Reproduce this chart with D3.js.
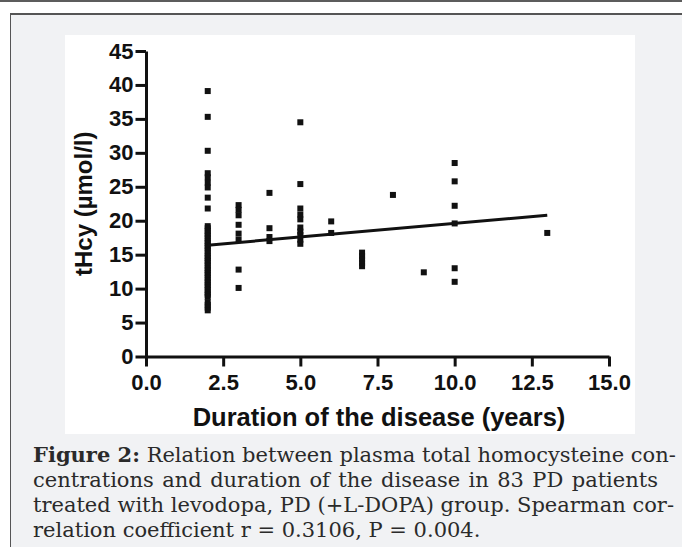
<!DOCTYPE html>
<html>
<head>
<meta charset="utf-8">
<script src="https://cdn.jsdelivr.net/npm/d3@7"></script>
<style>
  body { margin: 0; width: 682px; height: 547px; overflow: hidden; background: #fff; position: relative; }
  #topbar { position: absolute; left: 0; top: 0; width: 682px; height: 2px; background: #5c5c5c; }
  #box { position: absolute; left: 10px; top: 13px; width: 700px; height: 560px; background: #f1f2f4;
         border-top: 2px solid #555; border-left: 1px solid #555; }
  #chart { position: absolute; left: 0; top: 0; }
  #caption { position: absolute; left: 33px; top: 442px; width: 625px;
             font-family: "DejaVu Serif", serif; font-size: 21px; line-height: 25px; color: #2a2a2a; }
  .ln { white-space: nowrap; text-align: justify; text-align-last: justify; }
  .ln.last { text-align-last: left; }
</style>
</head>
<body>
<div id="topbar"></div>
<div id="box"></div>
<svg id="chart" width="682" height="547"></svg>
<div id="caption"></div>
<script>
// tHcy (µmol/l) read per disease duration (years)
const hcy2 = [39.1, 35.3, 30.3, 27.0, 26.4, 25.6, 24.9, 23.4, 21.8,
  19.2, 18.9, 18.5, 18.1, 17.8, 17.4, 17.0, 16.7, 16.3, 16.0, 15.6, 15.2, 14.8, 14.5,
  14.1, 13.8, 13.4, 13.0, 12.7, 12.3, 12.0, 11.6, 11.2, 10.9, 10.5, 10.2, 9.8, 9.4,
  9.1, 8.8, 8.0, 7.6, 7.2, 6.8];
const hcy3 = [22.3, 21.6, 20.8, 19.4, 18.1, 17.2, 12.8, 10.1];
const hcy4 = [24.1, 18.9, 17.6, 17.0];
const hcy5 = [34.5, 25.4, 21.8, 20.9, 20.2, 19.0, 18.4, 17.9, 17.2, 16.6];
const hcy6 = [19.9, 18.2];
const hcy7 = [15.3, 14.8, 14.3, 13.8, 13.3];
const hcy8 = [23.8];
const hcy9 = [12.4];
const hcy10 = [28.5, 25.8, 22.2, 19.6, 13.0, 11.0];
const hcy13 = [18.2];

const years = [2, 3, 4, 5, 6, 7, 8, 9, 10, 13];
const hcyLists = [hcy2, hcy3, hcy4, hcy5, hcy6, hcy7, hcy8, hcy9, hcy10, hcy13];

// regression line ends
const fitX = [2, 13];
const fitY = [16.4, 20.8];

const xTicks = [0, 2.5, 5, 7.5, 10, 12.5, 15];
const yTicks = [0, 5, 10, 15, 20, 25, 30, 35, 40, 45];

const captionLines = [
  "<b>Figure 2:</b> Relation between plasma total homocysteine con-",
  "centrations and duration of the disease in 83 PD patients",
  "treated with levodopa, PD (+L-DOPA) group. Spearman cor-",
  "relation coefficient r = 0.3106, P = 0.004."
];

const svg = d3.select("#chart");

// white figure panel
svg.append("rect")
  .attr("x", 65).attr("y", 35)
  .attr("width", 570).attr("height", 399)
  .attr("fill", "#fff");

const x = d3.scaleLinear().domain([0, 15]).range([146, 609]);
const y = d3.scaleLinear().domain([0, 45]).range([356.5, 51]);

const font = "'Liberation Sans', Arial, sans-serif";

const xAxis = svg.append("g")
  .attr("transform", `translate(0,${y(0)})`)
  .call(d3.axisBottom(x).tickValues(xTicks).tickFormat(d3.format(".1f"))
    .tickSize(10).tickSizeOuter(0).tickPadding(8));

const yAxis = svg.append("g")
  .attr("transform", `translate(${x(0)},0)`)
  .call(d3.axisLeft(y).tickValues(yTicks).tickFormat(d3.format("d"))
    .tickSize(10.5).tickSizeOuter(0).tickPadding(2));

[xAxis, yAxis].forEach(g => {
  g.select(".domain").attr("stroke", "#111").attr("stroke-width", 3);
  g.selectAll(".tick line").attr("stroke", "#111").attr("stroke-width", 3);
  g.selectAll(".tick text")
    .attr("fill", "#111")
    .style("font-family", font)
    .style("font-weight", "bold")
    .style("font-size", "22px");
});

// points
const pts = [];
years.forEach((yr, i) => hcyLists[i].forEach(v => pts.push({ yr, v })));

const sq = 6;
svg.append("g").selectAll("rect")
  .data(pts)
  .join("rect")
  .attr("x", d => x(d.yr) - sq / 2)
  .attr("y", d => y(d.v) - sq / 2)
  .attr("width", sq)
  .attr("height", sq)
  .attr("fill", "#111");

// linear fit
svg.append("path")
  .datum(fitX.map((v, i) => [v, fitY[i]]))
  .attr("fill", "none")
  .attr("stroke", "#111")
  .attr("stroke-width", 3)
  .attr("d", d3.line().x(d => x(d[0])).y(d => y(d[1])));

// axis titles
svg.append("text")
  .attr("x", 379)
  .attr("y", 426)
  .attr("text-anchor", "middle")
  .attr("fill", "#111")
  .style("font-family", font)
  .style("font-weight", "bold")
  .style("font-size", "25.5px")
  .text("Duration of the disease (years)");

svg.append("text")
  .attr("transform", `translate(92,${(y(0) + y(45)) / 2}) rotate(-90)`)
  .attr("text-anchor", "middle")
  .attr("fill", "#111")
  .style("font-family", font)
  .style("font-weight", "bold")
  .style("font-size", "24px")
  .text("tHcy (µmol/l)");

// caption
d3.select("#caption").selectAll("div")
  .data(captionLines)
  .join("div")
  .attr("class", (d, i) => i === captionLines.length - 1 ? "ln last" : "ln")
  .html(d => d);
</script>
</body>
</html>
